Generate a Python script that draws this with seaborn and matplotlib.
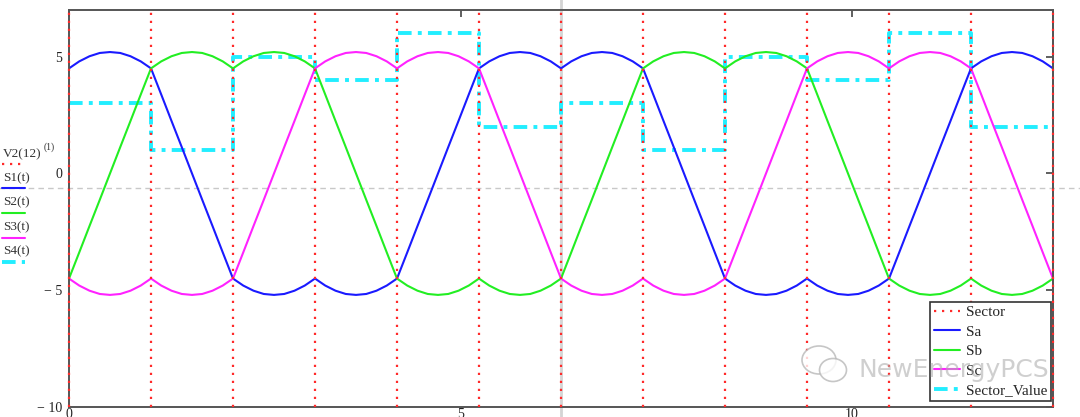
import numpy as np
import pandas as pd
import seaborn as sns
import matplotlib.pyplot as plt
from matplotlib.lines import Line2D
from matplotlib.patches import Ellipse

# 12 sectors of pi/3 each, from 0 to 4*pi
sector_value = [3, 1, 5, 4, 6, 2, 3, 1, 5, 4, 6, 2]
sa_shape = ["top", "down", "bot", "bot", "up", "top", "top", "down", "bot", "bot", "up", "top"]
sb_shape = ["up", "top", "top", "down", "bot", "bot", "up", "top", "top", "down", "bot", "bot"]
sc_shape = ["bot", "bot", "up", "top", "top", "down", "bot", "bot", "up", "top", "top", "down"]

# one sector, read at 9 even steps
arc_top = [4.5, 4.8, 5.02, 5.16, 5.2, 5.16, 5.02, 4.8, 4.5]
ramp_down = [4.5, 3.38, 2.25, 1.13, 0.0, -1.13, -2.25, -3.38, -4.5]

y_ticks = [-10, -5, 0, 5]
y_labels = ["\u2212 10", "\u2212 5", "0", "5"]
x_ticks = [0, 5, 10]
x_labels = ["0", "5", "10"]

shapes = {
    "top": arc_top,
    "bot": [-v for v in arc_top],
    "down": ramp_down,
    "up": ramp_down[::-1],
}

width = np.pi / 3
edges = np.arange(13) * width
frac = np.linspace(0, 1, len(arc_top))


def build(shape_list, name):
    rows = []
    for k, s in enumerate(shape_list):
        for f, v in zip(frac, shapes[s]):
            rows.append((edges[k] + f * width, v, name))
    return pd.DataFrame(rows, columns=["t", "value", "series"])


sa = build(sa_shape, "Sa")
sb = build(sb_shape, "Sb")
sc = build(sc_shape, "Sc")

step_rows = []
for k, v in enumerate(sector_value):
    step_rows.append((edges[k], v))
    step_rows.append((edges[k + 1], v))
steps = pd.DataFrame(step_rows, columns=["t", "value"])

sector_rows = []
for k, e in enumerate(edges):
    sector_rows.append((e, -10, k))
    sector_rows.append((e, 7, k))
sectors = pd.DataFrame(sector_rows, columns=["t", "value", "k"])

sns.set_style("white")
plt.rcParams["font.family"] = ["Liberation Serif", "DejaVu Serif"]

fig = plt.figure(figsize=(10.8, 4.17), dpi=100)
ax = fig.add_axes([69 / 1080, 10 / 417, (1053 - 69) / 1080, 397 / 417])

red = "#ff2a2a"
blue = "#1a1aff"
green = "#22ee22"
magenta = "#ff22ff"
cyan = "#22eeff"
dot_style = (0, (1, 2.6))
dashdot = (0, (3.5, 1.6, 1, 1.6))

# Mathcad cursor lines
ax.plot([2 * np.pi, 2 * np.pi], [-0.03, 1.03], color="#d4d4d4", lw=2,
        transform=ax.get_xaxis_transform(), clip_on=False, zorder=0.5)
ax.plot([-0.08, 1.04], [-0.64, -0.64], color="#c8c8c8", lw=1, ls=(0, (4, 3)),
        transform=ax.get_yaxis_transform(), clip_on=False, zorder=0.5)

sns.lineplot(data=steps, x="t", y="value", estimator=None, sort=False, color=cyan,
             lw=2.8, linestyle=dashdot, ax=ax)
sns.lineplot(data=sa, x="t", y="value", estimator=None, sort=False, color=blue, lw=1.5, ax=ax)
sns.lineplot(data=sb, x="t", y="value", estimator=None, sort=False, color=green, lw=1.5, ax=ax)
sns.lineplot(data=sc, x="t", y="value", estimator=None, sort=False, color=magenta, lw=1.5, ax=ax)
sns.lineplot(data=sectors, x="t", y="value", units="k", estimator=None, sort=False,
             color=red, lw=1.6, linestyle=dot_style, clip_on=False, ax=ax, zorder=3)

ax.set_xlim(0, 4 * np.pi)
ax.set_ylim(-10, 7)
ax.set_xlabel("")
ax.set_ylabel("")
ax.set_xticks(x_ticks)
ax.set_xticklabels(x_labels)
ax.set_yticks(y_ticks)
ax.set_yticklabels(y_labels)
ax.tick_params(axis="x", direction="in", top=True, length=5, width=1.2,
               color="#444444", labelsize=10, pad=1, labelcolor="#222222")
ax.tick_params(axis="y", direction="out", length=4, width=1.2,
               color="#444444", labelsize=10, pad=1, labelcolor="#222222")
right = ax.secondary_yaxis("right")
right.set_yticks(y_ticks)
right.tick_params(direction="in", length=5, width=1.2, color="#444444", labelright=False)
for sp in list(ax.spines.values()) + [right.spines["right"]]:
    sp.set_color("#555555")
    sp.set_linewidth(1.4)

handles = [
    Line2D([], [], color=red, lw=1.6, linestyle=dot_style),
    Line2D([], [], color=blue, lw=1.5),
    Line2D([], [], color=green, lw=1.5),
    Line2D([], [], color=magenta, lw=1.5),
    Line2D([], [], color=cyan, lw=2.8, linestyle=dashdot),
]
leg = ax.legend(handles, ["Sector", "Sa", "Sb", "Sc", "Sector_Value"],
                loc="lower right", bbox_to_anchor=(0.998, 0.015), fontsize=11,
                frameon=True, fancybox=False, framealpha=1, edgecolor="#333333",
                handlelength=1.75, handletextpad=0.35, labelspacing=0.38,
                borderpad=0.25, borderaxespad=0)
leg.get_frame().set_linewidth(1.2)

# watermark
ax.text(0.802, 0.076, "NewEnergyPCS", transform=ax.transAxes, fontsize=18,
        family="DejaVu Sans", color="#b0b0b0", alpha=0.6, va="baseline", zorder=10)
for cx, cy, w, h in [(819, 360, 34, 28), (833, 370, 27, 23)]:
    fig.add_artist(Ellipse((cx / 1080, 1 - cy / 417), w / 1080, h / 417,
                           transform=fig.transFigure, facecolor="white",
                           edgecolor="#b8b8b8", lw=1.2, alpha=0.8, zorder=10))

# Mathcad trace labels on the left
labels = [("V2(12)", red, dot_style, 1.6, 154, 164),
          ("S1(t)", blue, "-", 1.5, 178, 188),
          ("S2(t)", green, "-", 1.5, 202, 213),
          ("S3(t)", magenta, "-", 1.5, 227, 238),
          ("S4(t)", cyan, dashdot, 2.8, 251, 262)]
for text, col, ls, lw, ty, ly in labels:
    fig.text(3 / 1080, 1 - ty / 417, text, fontsize=9.5, color="#333333", va="center")
    fig.add_artist(Line2D([2 / 1080, 25 / 1080], [1 - ly / 417, 1 - ly / 417],
                          color=col, lw=lw, linestyle=ls))
fig.text(44 / 1080, 1 - 147 / 417, "(1)", fontsize=7, color="#333333", va="center")

fig.savefig("out.png", dpi=100)
